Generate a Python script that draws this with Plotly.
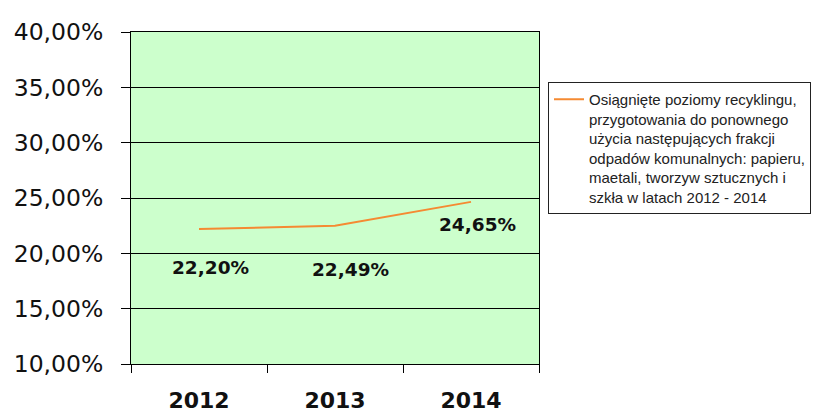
import plotly.graph_objects as go

years = ["2012", "2013", "2014"]
values = [0.2220, 0.2249, 0.2465]
labels = ["22,20%", "22,49%", "24,65%"]
series_name = ("Osiągnięte poziomy recyklingu,<br>przygotowania do ponownego<br>"
               "użycia następujących frakcji<br>odpadów komunalnych: papieru,<br>"
               "maetali, tworzyw sztucznych i<br>szkła w latach 2012 - 2014")

label_shift = [(11, -39), (15, -44), (6, -23)]

fig = go.Figure()
fig.add_trace(go.Scatter(
    x=years, y=values, mode="lines", name=series_name,
    line=dict(color="#F58A32", width=2), showlegend=True,
))

for i, (v, t, (dx, dy)) in enumerate(zip(values, labels, label_shift)):
    fig.add_annotation(x=i, y=v, text=t, showarrow=False, xshift=dx, yshift=dy,
                       font=dict(family="DejaVu Sans", size=18.5, color="#111111", weight="bold"),
                       xref="x", yref="y")

fig.update_layout(
    width=828, height=414,
    margin=dict(l=131, r=289, t=32, b=50),
    paper_bgcolor="white",
    plot_bgcolor="#CCFFCC",
    separators=", ",
    showlegend=True,
    legend=dict(
        xref="container", yref="container",
        x=548 / 828, y=1 - 82 / 414, xanchor="left", yanchor="top",
        bordercolor="#222222", borderwidth=1, bgcolor="white",
        font=dict(family="Liberation Sans", size=15, color="#222222"),
        valign="top", itemwidth=30, tracegroupgap=0,
    ),
    xaxis=dict(
        type="category", range=[-0.5, 2.5], tickson="boundaries",
        ticks="outside", ticklen=8, tickcolor="black",
        showline=True, linecolor="black", linewidth=1, mirror=True,
        showgrid=False, automargin=False,
        tickfont=dict(family="DejaVu Sans", size=22, color="#111111", weight="bold"),
        ticklabelstandoff=17,
    ),
    yaxis=dict(
        range=[0.10, 0.40], dtick=0.05, tick0=0.10, tickformat=".2%",
        ticks="outside", ticklen=9, tickcolor="black",
        showline=True, linecolor="black", linewidth=1, mirror=True,
        showgrid=True, gridcolor="black", gridwidth=1, automargin=False,
        tickfont=dict(family="DejaVu Sans", size=23.5, color="#111111"),
        ticklabelstandoff=13, zeroline=False,
    ),
)

fig.write_html("out.html")
